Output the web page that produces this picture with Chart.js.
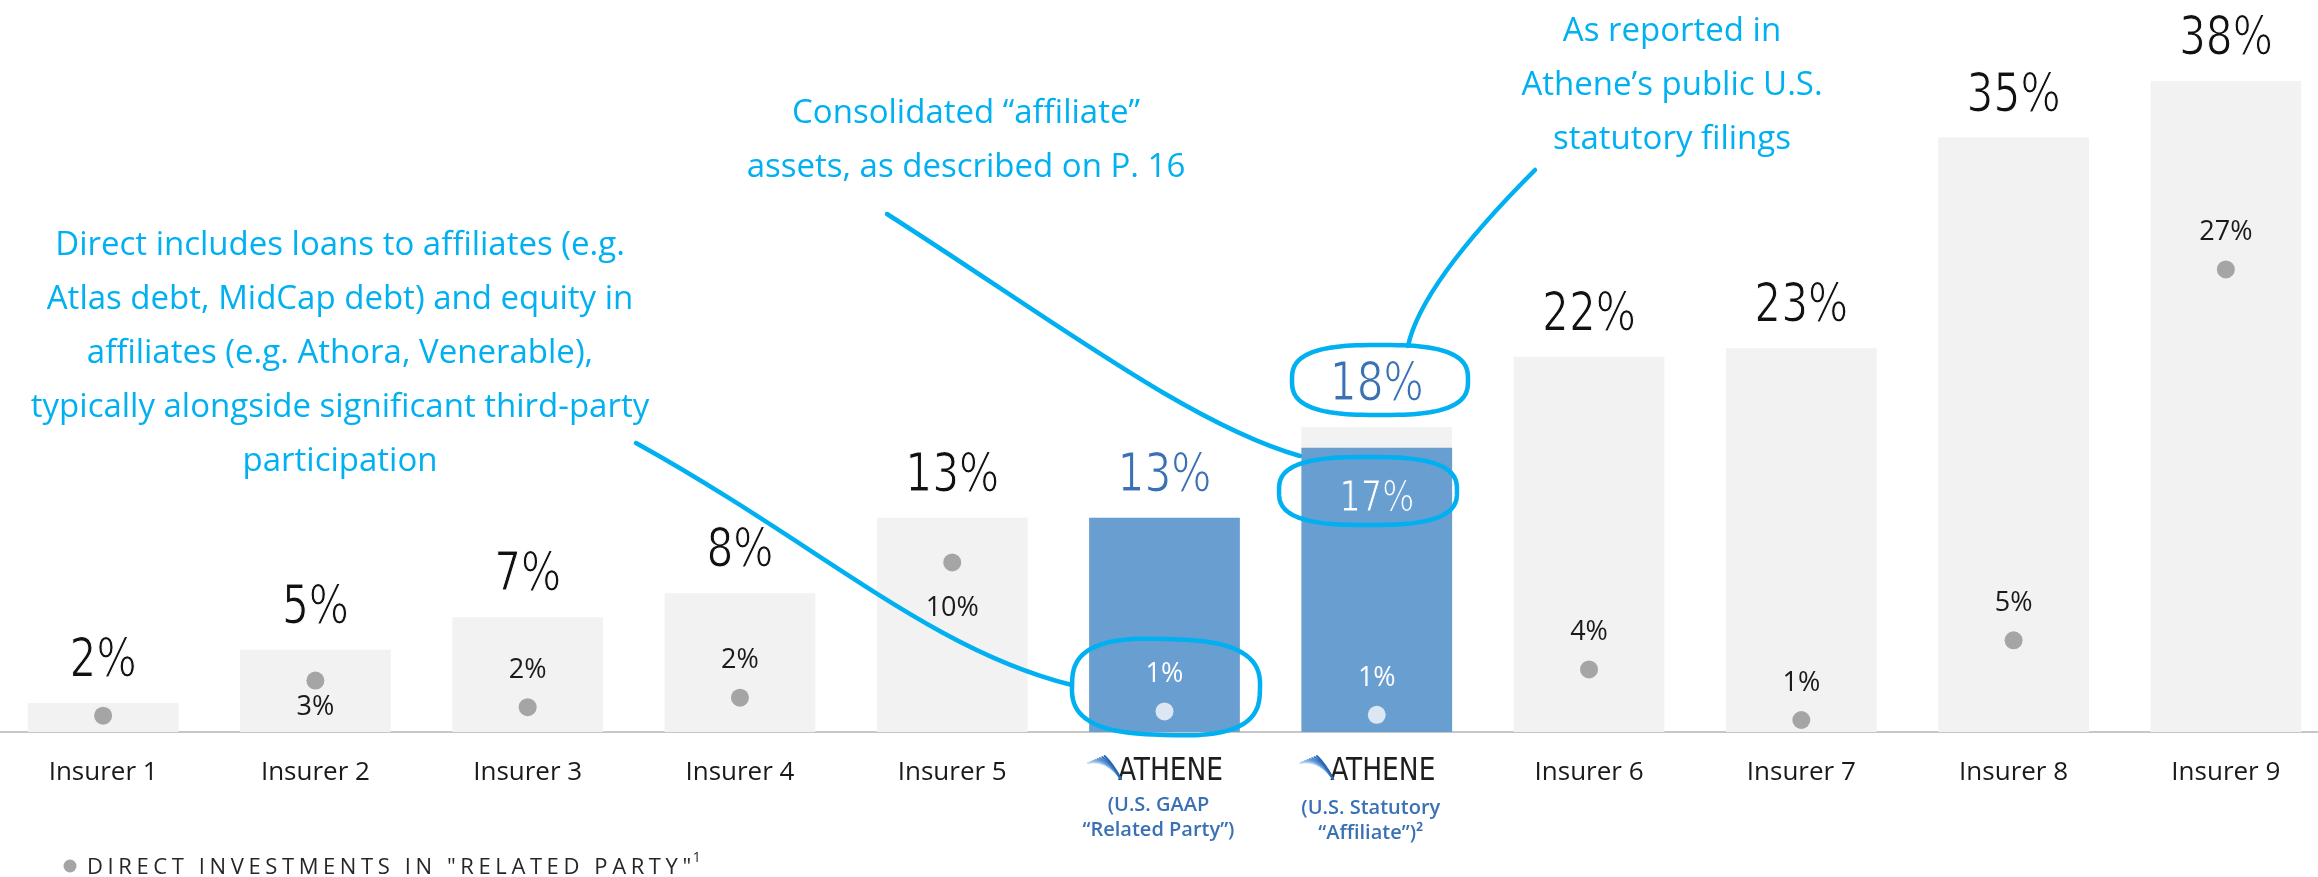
<!DOCTYPE html>
<html>
<head>
<meta charset="utf-8">
<script src="https://cdn.jsdelivr.net/npm/chart.js@4.4.1/dist/chart.umd.min.js"></script>
<style>
  html, body { margin: 0; padding: 0; background: #ffffff; overflow: hidden; width: 2318px; height: 877px; }
  #wrap { position: absolute; left: -3px; top: 0; width: 2335px; height: 877px; }
  #c { width: 2335px; height: 877px; }
</style>
</head>
<body>
<div id="wrap"><canvas id="c" width="2335" height="877"></canvas></div>
<script>
// ---------------- data ----------------
const categories = ['Insurer 1', 'Insurer 2', 'Insurer 3', 'Insurer 4', 'Insurer 5',
  'ATHENE (U.S. GAAP “Related Party”)', 'ATHENE (U.S. Statutory “Affiliate”)',
  'Insurer 6', 'Insurer 7', 'Insurer 8', 'Insurer 9'];
const totalValues = [1.7, 4.8, 6.7, 8.1, 12.5, 12.5, 17.8, 21.9, 22.4, 34.7, 38.0];
const totalLabels = ['2%', '5%', '7%', '8%', '13%', '13%', '18%', '22%', '23%', '35%', '38%'];
const atheneValues = [null, null, null, null, null, 12.5, 16.6, null, null, null, null];
const atheneLabels = ['', '', '', '', '', '', '17%', '', '', '', ''];
const directValues = [0.95, 3.0, 1.45, 2.0, 9.9, 1.2, 1.0, 3.65, 0.7, 5.35, 27.0];
const directLabels = ['', '3%', '2%', '2%', '10%', '1%', '1%', '4%', '1%', '5%', '27%'];
const atheneSubLines = {
  5: ['(U.S. GAAP', '“Related Party”)'],
  6: ['(U.S. Statutory', '“Affiliate”)²']
};
const legendText = 'DIRECT INVESTMENTS IN "RELATED PARTY"';
const noteDirect = ['Direct includes loans to affiliates (e.g.', 'Atlas debt, MidCap debt) and equity in',
  'affiliates (e.g. Athora, Venerable),', 'typically alongside significant third-party', 'participation'];
const noteConsolidated = ['Consolidated “affiliate”', 'assets, as described on P. 16'];
const noteReported = ['As reported in', 'Athene’s public U.S.', 'statutory filings'];

// ---------------- style ----------------
const athIdx = [5, 6];
const GRAY_BAR = '#F2F2F2';
const BLUE_BAR = '#699ED0';
const BLUE_TXT = '#3A71B4';
const CYAN = '#00B0F0';
const NARROW = "'Liberation Sans Narrow', 'DejaVu Sans Condensed', sans-serif";
const SANS = "'Open Sans', 'Noto Sans', sans-serif";
const OFF = 3; // wrapper is shifted 3px left

function narrowText(ctx, text, x, y, size, color, bg) {
  ctx.save();
  ctx.translate(x, y);
  ctx.scale(0.87, 1);
  ctx.font = size + 'px ' + NARROW;
  ctx.fillStyle = color;
  ctx.textAlign = 'center';
  ctx.textBaseline = 'alphabetic';
  ctx.fillText(text, 0, 0);
  if (bg) {
    ctx.strokeStyle = bg;
    ctx.lineWidth = 1.1;
    ctx.strokeText(text, 0, 0);
  }
  ctx.restore();
}

function blob(ctx, cx, cy, rx, ry, n, tilt) {
  ctx.beginPath();
  const N = 120;
  for (let k = 0; k <= N; k++) {
    const t = (k / N) * Math.PI * 2;
    const c = Math.cos(t), s = Math.sin(t);
    const x = rx * Math.sign(c) * Math.pow(Math.abs(c), 2 / n);
    const y = ry * Math.sign(s) * Math.pow(Math.abs(s), 2 / n);
    const xr = x * Math.cos(tilt) - y * Math.sin(tilt);
    const yr = x * Math.sin(tilt) + y * Math.cos(tilt);
    if (k === 0) ctx.moveTo(cx + xr, cy + yr); else ctx.lineTo(cx + xr, cy + yr);
  }
  ctx.closePath();
  ctx.stroke();
}

function drawLogo(ctx, cx, baseline) {
  ctx.save();
  ctx.font = '32px ' + NARROW;
  const tw = ctx.measureText('ATHENE').width * 0.92;
  const fw = 30;
  const left = cx - (fw + tw) / 2;
  const textLeft = left + fw;
  ctx.save();
  ctx.translate(textLeft, baseline);
  ctx.scale(0.92, 1);
  ctx.fillStyle = '#1E1E1E';
  ctx.textAlign = 'left';
  ctx.textBaseline = 'alphabetic';
  ctx.fillText('ATHENE', 0, 0);
  ctx.restore();
  const capTop = baseline - 23;
  const cols = ['#C4DCF4', '#ABCDEF', '#92BDE8', '#78AADF', '#5E97D5', '#4684CA', '#3372BC', '#2A66AE'];
  ctx.lineCap = 'round';
  for (let k = 0; k < 8; k++) {
    ctx.strokeStyle = cols[k];
    ctx.lineWidth = 1.9;
    ctx.beginPath();
    ctx.moveTo(left + k * 2.4, capTop + 6 - k * 1.0);
    ctx.quadraticCurveTo(left + 18 + k * 1.1, capTop + 2 + k * 0.8, textLeft + 3, baseline - 1);
    ctx.stroke();
  }
  ctx.restore();
}

const notesPlugin = {
  id: 'notes',
  afterDraw(chart, args, opts) {
    const ctx = chart.ctx;
    const xs = chart.scales.x;
    const dotMeta = chart.getDatasetMeta(0);
    const blueMeta = chart.getDatasetMeta(1);
    const grayMeta = chart.getDatasetMeta(2);

    // total labels above bars
    grayMeta.data.forEach((el, i) => {
      const lab = totalLabels[i];
      if (!lab) return;
      narrowText(ctx, lab, el.x, el.y - 27, 54, athIdx.includes(i) ? BLUE_TXT : '#111111', '#FFFFFF');
    });
    // athene inner label
    blueMeta.data.forEach((el, i) => {
      const lab = atheneLabels[i];
      if (!lab) return;
      narrowText(ctx, lab, el.x, el.y + 63, 43, '#FFFFFF', BLUE_BAR);
    });
    // direct investment labels
    ctx.save();
    ctx.font = '27px ' + SANS;
    ctx.textAlign = 'center';
    ctx.textBaseline = 'middle';
    dotMeta.data.forEach((pt, i) => {
      const lab = directLabels[i];
      if (!lab) return;
      const off = opts.below[i] !== undefined ? opts.below[i] : -37;
      ctx.fillStyle = athIdx.includes(i) ? '#FFFFFF' : '#1A1A1A';
      ctx.fillText(lab, pt.x, pt.y + off);
    });
    ctx.restore();

    // Athene category labels
    athIdx.forEach((i) => {
      const cx = xs.getPixelForValue(i);
      drawLogo(ctx, cx - 9, 780);
      ctx.save();
      ctx.font = '600 20px ' + SANS;
      ctx.fillStyle = BLUE_TXT;
      ctx.textAlign = 'center';
      ctx.textBaseline = 'middle';
      const lines = atheneSubLines[i];
      const dy = i === 6 ? 3 : 0;
      ctx.fillText(lines[0], cx - 6, 805 + dy);
      ctx.fillText(lines[1], cx - 6, 830 + dy);
      ctx.restore();
    });

    // legend
    ctx.save();
    ctx.translate(OFF, 0);
    ctx.fillStyle = '#A5A5A5';
    ctx.beginPath();
    ctx.arc(70, 866, 6.5, 0, Math.PI * 2);
    ctx.fill();
    ctx.font = '22px ' + SANS;
    ctx.fillStyle = '#262626';
    ctx.textAlign = 'left';
    ctx.textBaseline = 'alphabetic';
    ctx.letterSpacing = '4.6px';
    ctx.fillText(legendText, 87, 874);
    const lw = ctx.measureText(legendText).width;
    ctx.letterSpacing = '0px';
    ctx.font = '14px ' + SANS;
    ctx.fillText('1', 87 + lw - 3, 862);
    ctx.restore();

    // hand-drawn annotations
    ctx.save();
    ctx.translate(OFF, 0);
    ctx.fillStyle = CYAN;
    ctx.strokeStyle = CYAN;
    ctx.textAlign = 'center';
    ctx.textBaseline = 'alphabetic';
    ctx.font = '33px ' + SANS;
    noteDirect.forEach((t, k) => ctx.fillText(t, 340, 255 + k * 54));
    noteConsolidated.forEach((t, k) => ctx.fillText(t, 966, 123 + k * 54));
    noteReported.forEach((t, k) => ctx.fillText(t, 1672, 41 + k * 54));

    ctx.lineWidth = 4.5;
    ctx.lineCap = 'round';
    ctx.lineJoin = 'round';
    // connector to GAAP ellipse
    ctx.beginPath();
    ctx.moveTo(636, 443);
    ctx.bezierCurveTo(820, 545, 930, 650, 1072, 685);
    ctx.stroke();
    // connector to statutory 17% ellipse
    ctx.beginPath();
    ctx.moveTo(887, 214);
    ctx.bezierCurveTo(1050, 318, 1190, 425, 1300, 456);
    ctx.stroke();
    // connector to 18% ellipse
    ctx.beginPath();
    ctx.moveTo(1535, 170);
    ctx.bezierCurveTo(1490, 215, 1420, 290, 1408, 346);
    ctx.stroke();
    // ellipses
    blob(ctx, 1166, 687, 94, 48, 2.8, 0.03);
    blob(ctx, 1368, 491, 89, 34, 2.8, 0.0);
    blob(ctx, 1380, 380, 88, 35, 2.8, 0.0);
    ctx.restore();
  }
};

const chart = new Chart(document.getElementById('c'), {
  data: {
    labels: categories,
    datasets: [
      {
        type: 'line',
        label: 'Direct investments in "Related Party"',
        data: directValues,
        showLine: false,
        pointRadius: 9,
        pointHoverRadius: 9,
        pointBorderWidth: 0,
        pointBackgroundColor: (c) => athIdx.includes(c.dataIndex) ? '#DDE7F3' : '#A5A5A5',
        order: 0
      },
      {
        type: 'bar',
        label: 'Athene',
        data: atheneValues,
        backgroundColor: BLUE_BAR,
        grouped: false,
        barPercentage: 0.71,
        categoryPercentage: 1,
        order: 1
      },
      {
        type: 'bar',
        label: 'Total',
        data: totalValues,
        backgroundColor: GRAY_BAR,
        grouped: false,
        barPercentage: 0.71,
        categoryPercentage: 1,
        order: 2
      }
    ]
  },
  options: {
    responsive: false,
    animation: false,
    devicePixelRatio: 1,
    layout: { padding: 0, autoPadding: false },
    plugins: {
      legend: { display: false },
      tooltip: { enabled: false },
      notes: { below: { 1: 27, 4: 46 } }
    },
    scales: {
      x: {
        type: 'category',
        offset: true,
        grid: { display: false, drawTicks: false },
        border: { display: true, color: '#C6C6C6', width: 2 },
        ticks: {
          padding: 25,
          color: '#1A1A1A',
          font: { family: SANS, size: 26 },
          maxRotation: 0,
          autoSkip: false,
          callback: (v, i) => athIdx.includes(i) ? '' : categories[i]
        },
        afterFit: (s) => { s.height = 145; }
      },
      y: {
        display: false,
        min: 0,
        max: 42.73
      }
    }
  },
  plugins: [notesPlugin]
});
</script>
</body>
</html>
